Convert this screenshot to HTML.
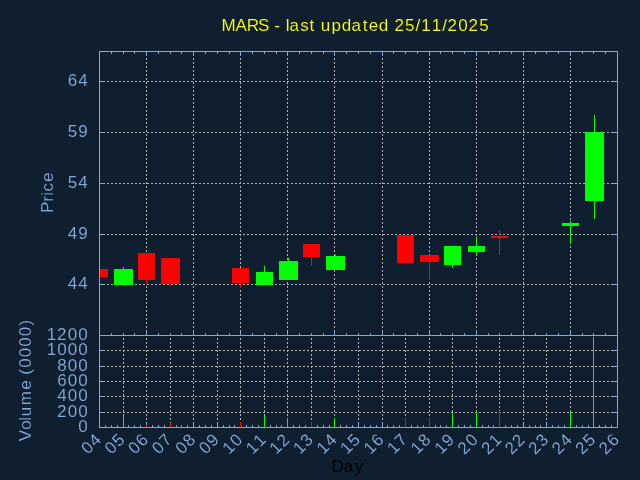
<!DOCTYPE html>
<html><head><meta charset="utf-8"><style>
html,body{margin:0;padding:0;background:#101f2f;}
svg{display:block;}
text{font-family:"Liberation Sans", sans-serif;font-size:17px;stroke:#101f2f;stroke-width:0.1px;}
</style></head><body>
<svg width="640" height="480" viewBox="0 0 640 480" shape-rendering="crispEdges">
<rect x="0" y="0" width="640" height="480" fill="#101f2f"/>
<line x1="99" y1="81.5" x2="618" y2="81.5" stroke="#b0b0ae" stroke-dasharray="2 2"/>
<line x1="99" y1="132.5" x2="618" y2="132.5" stroke="#b0b0ae" stroke-dasharray="2 2"/>
<line x1="99" y1="183.5" x2="618" y2="183.5" stroke="#b0b0ae" stroke-dasharray="2 2"/>
<line x1="99" y1="234.5" x2="618" y2="234.5" stroke="#b0b0ae" stroke-dasharray="2 2"/>
<line x1="99" y1="284.5" x2="618" y2="284.5" stroke="#b0b0ae" stroke-dasharray="2 2"/>
<line x1="146.5" y1="51" x2="146.5" y2="336" stroke="#b0b0ae" stroke-dasharray="2 2" stroke-dashoffset="1"/>
<line x1="193.5" y1="51" x2="193.5" y2="336" stroke="#b0b0ae" stroke-dasharray="2 2" stroke-dashoffset="1"/>
<line x1="240.5" y1="51" x2="240.5" y2="336" stroke="#b0b0ae" stroke-dasharray="2 2" stroke-dashoffset="1"/>
<line x1="287.5" y1="51" x2="287.5" y2="336" stroke="#b0b0ae" stroke-dasharray="2 2" stroke-dashoffset="1"/>
<line x1="334.5" y1="51" x2="334.5" y2="336" stroke="#b0b0ae" stroke-dasharray="2 2" stroke-dashoffset="1"/>
<line x1="382.5" y1="51" x2="382.5" y2="336" stroke="#b0b0ae" stroke-dasharray="2 2" stroke-dashoffset="1"/>
<line x1="429.5" y1="51" x2="429.5" y2="336" stroke="#b0b0ae" stroke-dasharray="2 2" stroke-dashoffset="1"/>
<line x1="476.5" y1="51" x2="476.5" y2="336" stroke="#b0b0ae" stroke-dasharray="2 2" stroke-dashoffset="1"/>
<line x1="523.5" y1="51" x2="523.5" y2="336" stroke="#b0b0ae" stroke-dasharray="2 2" stroke-dashoffset="1"/>
<line x1="570.5" y1="51" x2="570.5" y2="336" stroke="#b0b0ae" stroke-dasharray="2 2" stroke-dashoffset="1"/>
<line x1="99" y1="350.5" x2="618" y2="350.5" stroke="#b0b0ae" stroke-dasharray="2 2"/>
<line x1="99" y1="366.5" x2="618" y2="366.5" stroke="#b0b0ae" stroke-dasharray="2 2"/>
<line x1="99" y1="381.5" x2="618" y2="381.5" stroke="#b0b0ae" stroke-dasharray="2 2"/>
<line x1="99" y1="396.5" x2="618" y2="396.5" stroke="#b0b0ae" stroke-dasharray="2 2"/>
<line x1="99" y1="412.5" x2="618" y2="412.5" stroke="#b0b0ae" stroke-dasharray="2 2"/>
<line x1="123.5" y1="335" x2="123.5" y2="428" stroke="#b0b0ae" stroke-dasharray="2 2" stroke-dashoffset="1"/>
<line x1="146.5" y1="335" x2="146.5" y2="428" stroke="#b0b0ae" stroke-dasharray="2 2" stroke-dashoffset="1"/>
<line x1="170.5" y1="335" x2="170.5" y2="428" stroke="#b0b0ae" stroke-dasharray="2 2" stroke-dashoffset="1"/>
<line x1="193.5" y1="335" x2="193.5" y2="428" stroke="#b0b0ae" stroke-dasharray="2 2" stroke-dashoffset="1"/>
<line x1="217.5" y1="335" x2="217.5" y2="428" stroke="#b0b0ae" stroke-dasharray="2 2" stroke-dashoffset="1"/>
<line x1="240.5" y1="335" x2="240.5" y2="428" stroke="#b0b0ae" stroke-dasharray="2 2" stroke-dashoffset="1"/>
<line x1="264.5" y1="335" x2="264.5" y2="428" stroke="#b0b0ae" stroke-dasharray="2 2" stroke-dashoffset="1"/>
<line x1="287.5" y1="335" x2="287.5" y2="428" stroke="#b0b0ae" stroke-dasharray="2 2" stroke-dashoffset="1"/>
<line x1="311.5" y1="335" x2="311.5" y2="428" stroke="#b0b0ae" stroke-dasharray="2 2" stroke-dashoffset="1"/>
<line x1="334.5" y1="335" x2="334.5" y2="428" stroke="#b0b0ae" stroke-dasharray="2 2" stroke-dashoffset="1"/>
<line x1="358.5" y1="335" x2="358.5" y2="428" stroke="#b0b0ae" stroke-dasharray="2 2" stroke-dashoffset="1"/>
<line x1="382.5" y1="335" x2="382.5" y2="428" stroke="#b0b0ae" stroke-dasharray="2 2" stroke-dashoffset="1"/>
<line x1="405.5" y1="335" x2="405.5" y2="428" stroke="#b0b0ae" stroke-dasharray="2 2" stroke-dashoffset="1"/>
<line x1="429.5" y1="335" x2="429.5" y2="428" stroke="#b0b0ae" stroke-dasharray="2 2" stroke-dashoffset="1"/>
<line x1="452.5" y1="335" x2="452.5" y2="428" stroke="#b0b0ae" stroke-dasharray="2 2" stroke-dashoffset="1"/>
<line x1="476.5" y1="335" x2="476.5" y2="428" stroke="#b0b0ae" stroke-dasharray="2 2" stroke-dashoffset="1"/>
<line x1="499.5" y1="335" x2="499.5" y2="428" stroke="#b0b0ae" stroke-dasharray="2 2" stroke-dashoffset="1"/>
<line x1="523.5" y1="335" x2="523.5" y2="428" stroke="#b0b0ae" stroke-dasharray="2 2" stroke-dashoffset="1"/>
<line x1="546.5" y1="335" x2="546.5" y2="428" stroke="#b0b0ae" stroke-dasharray="2 2" stroke-dashoffset="1"/>
<line x1="570.5" y1="335" x2="570.5" y2="428" stroke="#b0b0ae" stroke-dasharray="2 2" stroke-dashoffset="1"/>
<line x1="593.5" y1="335" x2="593.5" y2="428" stroke="#b0b0ae" stroke-dasharray="2 2" stroke-dashoffset="1"/>
<rect x="99" y="51" width="519" height="1" fill="#80a8d8"/>
<rect x="99" y="427" width="519" height="1" fill="#80a8d8"/>
<rect x="99" y="51" width="1" height="377" fill="#80a8d8"/>
<rect x="617" y="51" width="1" height="377" fill="#80a8d8"/>
<rect x="99" y="335" width="519" height="1" fill="#80a8d8"/>
<rect x="100" y="81" width="4" height="1" fill="#80a8d8"/>
<rect x="613" y="81" width="4" height="1" fill="#80a8d8"/>
<rect x="100" y="132" width="4" height="1" fill="#80a8d8"/>
<rect x="613" y="132" width="4" height="1" fill="#80a8d8"/>
<rect x="100" y="183" width="4" height="1" fill="#80a8d8"/>
<rect x="613" y="183" width="4" height="1" fill="#80a8d8"/>
<rect x="100" y="234" width="4" height="1" fill="#80a8d8"/>
<rect x="613" y="234" width="4" height="1" fill="#80a8d8"/>
<rect x="100" y="284" width="4" height="1" fill="#80a8d8"/>
<rect x="613" y="284" width="4" height="1" fill="#80a8d8"/>
<rect x="100" y="350" width="4" height="1" fill="#80a8d8"/>
<rect x="613" y="350" width="4" height="1" fill="#80a8d8"/>
<rect x="100" y="366" width="4" height="1" fill="#80a8d8"/>
<rect x="613" y="366" width="4" height="1" fill="#80a8d8"/>
<rect x="100" y="381" width="4" height="1" fill="#80a8d8"/>
<rect x="613" y="381" width="4" height="1" fill="#80a8d8"/>
<rect x="100" y="396" width="4" height="1" fill="#80a8d8"/>
<rect x="613" y="396" width="4" height="1" fill="#80a8d8"/>
<rect x="100" y="412" width="4" height="1" fill="#80a8d8"/>
<rect x="613" y="412" width="4" height="1" fill="#80a8d8"/>
<rect x="111" y="52" width="1" height="2" fill="#80a8d8"/>
<rect x="111" y="333" width="1" height="2" fill="#80a8d8"/>
<rect x="123" y="52" width="1" height="2" fill="#80a8d8"/>
<rect x="123" y="333" width="1" height="2" fill="#80a8d8"/>
<rect x="134" y="52" width="1" height="2" fill="#80a8d8"/>
<rect x="134" y="333" width="1" height="2" fill="#80a8d8"/>
<rect x="146" y="52" width="1" height="4" fill="#80a8d8"/>
<rect x="146" y="331" width="1" height="4" fill="#80a8d8"/>
<rect x="158" y="52" width="1" height="2" fill="#80a8d8"/>
<rect x="158" y="333" width="1" height="2" fill="#80a8d8"/>
<rect x="170" y="52" width="1" height="2" fill="#80a8d8"/>
<rect x="170" y="333" width="1" height="2" fill="#80a8d8"/>
<rect x="181" y="52" width="1" height="2" fill="#80a8d8"/>
<rect x="181" y="333" width="1" height="2" fill="#80a8d8"/>
<rect x="193" y="52" width="1" height="4" fill="#80a8d8"/>
<rect x="193" y="331" width="1" height="4" fill="#80a8d8"/>
<rect x="205" y="52" width="1" height="2" fill="#80a8d8"/>
<rect x="205" y="333" width="1" height="2" fill="#80a8d8"/>
<rect x="217" y="52" width="1" height="2" fill="#80a8d8"/>
<rect x="217" y="333" width="1" height="2" fill="#80a8d8"/>
<rect x="229" y="52" width="1" height="2" fill="#80a8d8"/>
<rect x="229" y="333" width="1" height="2" fill="#80a8d8"/>
<rect x="240" y="52" width="1" height="4" fill="#80a8d8"/>
<rect x="240" y="331" width="1" height="4" fill="#80a8d8"/>
<rect x="252" y="52" width="1" height="2" fill="#80a8d8"/>
<rect x="252" y="333" width="1" height="2" fill="#80a8d8"/>
<rect x="264" y="52" width="1" height="2" fill="#80a8d8"/>
<rect x="264" y="333" width="1" height="2" fill="#80a8d8"/>
<rect x="276" y="52" width="1" height="2" fill="#80a8d8"/>
<rect x="276" y="333" width="1" height="2" fill="#80a8d8"/>
<rect x="287" y="52" width="1" height="4" fill="#80a8d8"/>
<rect x="287" y="331" width="1" height="4" fill="#80a8d8"/>
<rect x="299" y="52" width="1" height="2" fill="#80a8d8"/>
<rect x="299" y="333" width="1" height="2" fill="#80a8d8"/>
<rect x="311" y="52" width="1" height="2" fill="#80a8d8"/>
<rect x="311" y="333" width="1" height="2" fill="#80a8d8"/>
<rect x="323" y="52" width="1" height="2" fill="#80a8d8"/>
<rect x="323" y="333" width="1" height="2" fill="#80a8d8"/>
<rect x="334" y="52" width="1" height="4" fill="#80a8d8"/>
<rect x="334" y="331" width="1" height="4" fill="#80a8d8"/>
<rect x="346" y="52" width="1" height="2" fill="#80a8d8"/>
<rect x="346" y="333" width="1" height="2" fill="#80a8d8"/>
<rect x="358" y="52" width="1" height="2" fill="#80a8d8"/>
<rect x="358" y="333" width="1" height="2" fill="#80a8d8"/>
<rect x="370" y="52" width="1" height="2" fill="#80a8d8"/>
<rect x="370" y="333" width="1" height="2" fill="#80a8d8"/>
<rect x="382" y="52" width="1" height="4" fill="#80a8d8"/>
<rect x="382" y="331" width="1" height="4" fill="#80a8d8"/>
<rect x="393" y="52" width="1" height="2" fill="#80a8d8"/>
<rect x="393" y="333" width="1" height="2" fill="#80a8d8"/>
<rect x="405" y="52" width="1" height="2" fill="#80a8d8"/>
<rect x="405" y="333" width="1" height="2" fill="#80a8d8"/>
<rect x="417" y="52" width="1" height="2" fill="#80a8d8"/>
<rect x="417" y="333" width="1" height="2" fill="#80a8d8"/>
<rect x="429" y="52" width="1" height="4" fill="#80a8d8"/>
<rect x="429" y="331" width="1" height="4" fill="#80a8d8"/>
<rect x="440" y="52" width="1" height="2" fill="#80a8d8"/>
<rect x="440" y="333" width="1" height="2" fill="#80a8d8"/>
<rect x="452" y="52" width="1" height="2" fill="#80a8d8"/>
<rect x="452" y="333" width="1" height="2" fill="#80a8d8"/>
<rect x="464" y="52" width="1" height="2" fill="#80a8d8"/>
<rect x="464" y="333" width="1" height="2" fill="#80a8d8"/>
<rect x="476" y="52" width="1" height="4" fill="#80a8d8"/>
<rect x="476" y="331" width="1" height="4" fill="#80a8d8"/>
<rect x="488" y="52" width="1" height="2" fill="#80a8d8"/>
<rect x="488" y="333" width="1" height="2" fill="#80a8d8"/>
<rect x="499" y="52" width="1" height="2" fill="#80a8d8"/>
<rect x="499" y="333" width="1" height="2" fill="#80a8d8"/>
<rect x="511" y="52" width="1" height="2" fill="#80a8d8"/>
<rect x="511" y="333" width="1" height="2" fill="#80a8d8"/>
<rect x="523" y="52" width="1" height="4" fill="#80a8d8"/>
<rect x="523" y="331" width="1" height="4" fill="#80a8d8"/>
<rect x="535" y="52" width="1" height="2" fill="#80a8d8"/>
<rect x="535" y="333" width="1" height="2" fill="#80a8d8"/>
<rect x="546" y="52" width="1" height="2" fill="#80a8d8"/>
<rect x="546" y="333" width="1" height="2" fill="#80a8d8"/>
<rect x="558" y="52" width="1" height="2" fill="#80a8d8"/>
<rect x="558" y="333" width="1" height="2" fill="#80a8d8"/>
<rect x="570" y="52" width="1" height="4" fill="#80a8d8"/>
<rect x="570" y="331" width="1" height="4" fill="#80a8d8"/>
<rect x="582" y="52" width="1" height="2" fill="#80a8d8"/>
<rect x="582" y="333" width="1" height="2" fill="#80a8d8"/>
<rect x="593" y="52" width="1" height="2" fill="#80a8d8"/>
<rect x="593" y="333" width="1" height="2" fill="#80a8d8"/>
<rect x="605" y="52" width="1" height="2" fill="#80a8d8"/>
<rect x="605" y="333" width="1" height="2" fill="#80a8d8"/>
<rect x="105" y="425" width="1" height="2" fill="#80a8d8"/>
<rect x="111" y="425" width="1" height="2" fill="#80a8d8"/>
<rect x="117" y="425" width="1" height="2" fill="#80a8d8"/>
<rect x="123" y="423" width="1" height="4" fill="#80a8d8"/>
<rect x="128" y="425" width="1" height="2" fill="#80a8d8"/>
<rect x="134" y="425" width="1" height="2" fill="#80a8d8"/>
<rect x="140" y="425" width="1" height="2" fill="#80a8d8"/>
<rect x="146" y="423" width="1" height="4" fill="#80a8d8"/>
<rect x="152" y="425" width="1" height="2" fill="#80a8d8"/>
<rect x="158" y="425" width="1" height="2" fill="#80a8d8"/>
<rect x="164" y="425" width="1" height="2" fill="#80a8d8"/>
<rect x="170" y="423" width="1" height="4" fill="#80a8d8"/>
<rect x="176" y="425" width="1" height="2" fill="#80a8d8"/>
<rect x="181" y="425" width="1" height="2" fill="#80a8d8"/>
<rect x="187" y="425" width="1" height="2" fill="#80a8d8"/>
<rect x="193" y="423" width="1" height="4" fill="#80a8d8"/>
<rect x="199" y="425" width="1" height="2" fill="#80a8d8"/>
<rect x="205" y="425" width="1" height="2" fill="#80a8d8"/>
<rect x="211" y="425" width="1" height="2" fill="#80a8d8"/>
<rect x="217" y="423" width="1" height="4" fill="#80a8d8"/>
<rect x="223" y="425" width="1" height="2" fill="#80a8d8"/>
<rect x="229" y="425" width="1" height="2" fill="#80a8d8"/>
<rect x="234" y="425" width="1" height="2" fill="#80a8d8"/>
<rect x="240" y="423" width="1" height="4" fill="#80a8d8"/>
<rect x="246" y="425" width="1" height="2" fill="#80a8d8"/>
<rect x="252" y="425" width="1" height="2" fill="#80a8d8"/>
<rect x="258" y="425" width="1" height="2" fill="#80a8d8"/>
<rect x="264" y="423" width="1" height="4" fill="#80a8d8"/>
<rect x="270" y="425" width="1" height="2" fill="#80a8d8"/>
<rect x="276" y="425" width="1" height="2" fill="#80a8d8"/>
<rect x="281" y="425" width="1" height="2" fill="#80a8d8"/>
<rect x="287" y="423" width="1" height="4" fill="#80a8d8"/>
<rect x="293" y="425" width="1" height="2" fill="#80a8d8"/>
<rect x="299" y="425" width="1" height="2" fill="#80a8d8"/>
<rect x="305" y="425" width="1" height="2" fill="#80a8d8"/>
<rect x="311" y="423" width="1" height="4" fill="#80a8d8"/>
<rect x="317" y="425" width="1" height="2" fill="#80a8d8"/>
<rect x="323" y="425" width="1" height="2" fill="#80a8d8"/>
<rect x="329" y="425" width="1" height="2" fill="#80a8d8"/>
<rect x="334" y="423" width="1" height="4" fill="#80a8d8"/>
<rect x="340" y="425" width="1" height="2" fill="#80a8d8"/>
<rect x="346" y="425" width="1" height="2" fill="#80a8d8"/>
<rect x="352" y="425" width="1" height="2" fill="#80a8d8"/>
<rect x="358" y="423" width="1" height="4" fill="#80a8d8"/>
<rect x="364" y="425" width="1" height="2" fill="#80a8d8"/>
<rect x="370" y="425" width="1" height="2" fill="#80a8d8"/>
<rect x="376" y="425" width="1" height="2" fill="#80a8d8"/>
<rect x="382" y="423" width="1" height="4" fill="#80a8d8"/>
<rect x="387" y="425" width="1" height="2" fill="#80a8d8"/>
<rect x="393" y="425" width="1" height="2" fill="#80a8d8"/>
<rect x="399" y="425" width="1" height="2" fill="#80a8d8"/>
<rect x="405" y="423" width="1" height="4" fill="#80a8d8"/>
<rect x="411" y="425" width="1" height="2" fill="#80a8d8"/>
<rect x="417" y="425" width="1" height="2" fill="#80a8d8"/>
<rect x="423" y="425" width="1" height="2" fill="#80a8d8"/>
<rect x="429" y="423" width="1" height="4" fill="#80a8d8"/>
<rect x="435" y="425" width="1" height="2" fill="#80a8d8"/>
<rect x="440" y="425" width="1" height="2" fill="#80a8d8"/>
<rect x="446" y="425" width="1" height="2" fill="#80a8d8"/>
<rect x="452" y="423" width="1" height="4" fill="#80a8d8"/>
<rect x="458" y="425" width="1" height="2" fill="#80a8d8"/>
<rect x="464" y="425" width="1" height="2" fill="#80a8d8"/>
<rect x="470" y="425" width="1" height="2" fill="#80a8d8"/>
<rect x="476" y="423" width="1" height="4" fill="#80a8d8"/>
<rect x="482" y="425" width="1" height="2" fill="#80a8d8"/>
<rect x="488" y="425" width="1" height="2" fill="#80a8d8"/>
<rect x="493" y="425" width="1" height="2" fill="#80a8d8"/>
<rect x="499" y="423" width="1" height="4" fill="#80a8d8"/>
<rect x="505" y="425" width="1" height="2" fill="#80a8d8"/>
<rect x="511" y="425" width="1" height="2" fill="#80a8d8"/>
<rect x="517" y="425" width="1" height="2" fill="#80a8d8"/>
<rect x="523" y="423" width="1" height="4" fill="#80a8d8"/>
<rect x="529" y="425" width="1" height="2" fill="#80a8d8"/>
<rect x="535" y="425" width="1" height="2" fill="#80a8d8"/>
<rect x="540" y="425" width="1" height="2" fill="#80a8d8"/>
<rect x="546" y="423" width="1" height="4" fill="#80a8d8"/>
<rect x="552" y="425" width="1" height="2" fill="#80a8d8"/>
<rect x="558" y="425" width="1" height="2" fill="#80a8d8"/>
<rect x="564" y="425" width="1" height="2" fill="#80a8d8"/>
<rect x="570" y="423" width="1" height="4" fill="#80a8d8"/>
<rect x="576" y="425" width="1" height="2" fill="#80a8d8"/>
<rect x="582" y="425" width="1" height="2" fill="#80a8d8"/>
<rect x="588" y="425" width="1" height="2" fill="#80a8d8"/>
<rect x="593" y="423" width="1" height="4" fill="#80a8d8"/>
<rect x="599" y="425" width="1" height="2" fill="#80a8d8"/>
<rect x="605" y="425" width="1" height="2" fill="#80a8d8"/>
<rect x="611" y="425" width="1" height="2" fill="#80a8d8"/>
<rect x="100" y="269" width="8" height="8" fill="#ff0000"/>
<rect x="123" y="267" width="1" height="18" fill="#00ff00"/>
<rect x="114" y="269" width="19" height="16" fill="#00ff00"/>
<rect x="146" y="253" width="1" height="31" fill="#ff0000"/>
<rect x="138" y="253" width="17" height="27" fill="#ff0000"/>
<rect x="170" y="258" width="1" height="28" fill="#ff0000"/>
<rect x="161" y="258" width="19" height="26" fill="#ff0000"/>
<rect x="240" y="268" width="1" height="20" fill="#ff0000"/>
<rect x="232" y="268" width="17" height="15" fill="#ff0000"/>
<rect x="264" y="266" width="1" height="19" fill="#00ff00"/>
<rect x="256" y="272" width="17" height="13" fill="#00ff00"/>
<rect x="288" y="258" width="1" height="22" fill="#00ff00"/>
<rect x="279" y="261" width="19" height="19" fill="#00ff00"/>
<rect x="311" y="244" width="1" height="22" fill="#ff0000"/>
<rect x="303" y="244" width="17" height="13" fill="#ff0000"/>
<rect x="335" y="255" width="1" height="15" fill="#00ff00"/>
<rect x="326" y="256" width="19" height="14" fill="#00ff00"/>
<rect x="405" y="235" width="1" height="29" fill="#ff0000"/>
<rect x="397" y="235" width="17" height="28" fill="#ff0000"/>
<rect x="429" y="255" width="1" height="25" fill="#ff0000"/>
<rect x="420" y="255" width="19" height="7" fill="#ff0000"/>
<rect x="452" y="246" width="1" height="22" fill="#00ff00"/>
<rect x="444" y="246" width="17" height="19" fill="#00ff00"/>
<rect x="476" y="237" width="1" height="18" fill="#00ff00"/>
<rect x="468" y="246" width="17" height="6" fill="#00ff00"/>
<rect x="499" y="230" width="1" height="25" fill="#ff0000"/>
<rect x="491" y="236" width="17" height="2" fill="#ff0000"/>
<rect x="570" y="221" width="1" height="23" fill="#00ff00"/>
<rect x="562" y="223" width="17" height="3" fill="#00ff00"/>
<rect x="594" y="115" width="1" height="104" fill="#00ff00"/>
<rect x="585" y="132" width="19" height="69" fill="#00ff00"/>
<rect x="123" y="416" width="1" height="11" fill="#00ff00"/>
<rect x="146" y="425" width="1" height="2" fill="#ff0000"/>
<rect x="170" y="423" width="1" height="4" fill="#ff0000"/>
<rect x="240" y="422" width="1" height="5" fill="#ff0000"/>
<rect x="264" y="416" width="1" height="11" fill="#00ff00"/>
<rect x="287" y="418" width="1" height="9" fill="#00ff00"/>
<rect x="311" y="422" width="1" height="5" fill="#ff0000"/>
<rect x="334" y="418" width="1" height="9" fill="#00ff00"/>
<rect x="405" y="418" width="1" height="9" fill="#ff0000"/>
<rect x="429" y="418" width="1" height="9" fill="#ff0000"/>
<rect x="452" y="413" width="1" height="14" fill="#00ff00"/>
<rect x="476" y="411" width="1" height="16" fill="#00ff00"/>
<rect x="499" y="411" width="1" height="16" fill="#ff0000"/>
<rect x="570" y="411" width="1" height="16" fill="#00ff00"/>
<rect x="593" y="337" width="1" height="90" fill="#00ff00"/>
<g id="txt" opacity="0.999">
<text x="221.44 235.61 246.79 258.04 269.12 274.25 280.32 285.71 289.60 300.16 309.43 315.33 320.78 331.39 341.65 351.43 362.66 368.68 378.85 389.18 394.47 405.12 415.58 421.16 431.65 442.14 447.58 458.29 468.58 479.23" y="31" fill="#ffff00">MARS - last updated 25/11/2025</text>
<text x="67.72 78.22" y="86" fill="#86acdc">64</text>
<text x="67.66 78.17" y="137" fill="#86acdc">59</text>
<text x="67.66 78.22" y="188" fill="#86acdc">54</text>
<text x="67.72 78.17" y="239" fill="#86acdc">49</text>
<text x="67.72 78.22" y="289" fill="#86acdc">44</text>
<text x="46.64 57.00 67.72 78.22" y="340" fill="#86acdc">1200</text>
<text x="46.64 57.22 67.72 78.22" y="355" fill="#86acdc">1000</text>
<text x="57.22 67.72 78.22" y="371" fill="#86acdc">800</text>
<text x="57.22 67.72 78.22" y="386" fill="#86acdc">600</text>
<text x="57.22 67.72 78.22" y="401" fill="#86acdc">400</text>
<text x="57.00 67.72 78.22" y="417" fill="#86acdc">200</text>
<text x="78.22" y="432" fill="#86acdc">0</text>
<g transform="translate(53.1,192.4) rotate(-90)">
<text x="-20.54 -9.29 -3.27 0.99 10.36" y="0" fill="#86acdc">Price</text>
</g>
<g transform="translate(30.8,380.6) rotate(-90)">
<text x="-60.77 -49.13 -40.24 -35.59 -24.60 -9.14 0.89 5.83 12.83 23.33 33.82 44.32 55.12" y="0" fill="#86acdc">Volume (0000)</text>
</g>
<text x="331.56 343.73 354.75" y="472" fill="#000000">Day</text>
<g transform="translate(102.50,440.50) rotate(-45)">
<text x="-20.48 -9.98" y="0" fill="#86acdc">04</text>
</g>
<g transform="translate(126.05,440.50) rotate(-45)">
<text x="-20.48 -10.04" y="0" fill="#86acdc">05</text>
</g>
<g transform="translate(149.59,440.50) rotate(-45)">
<text x="-20.48 -9.98" y="0" fill="#86acdc">06</text>
</g>
<g transform="translate(173.14,440.50) rotate(-45)">
<text x="-20.48 -10.01" y="0" fill="#86acdc">07</text>
</g>
<g transform="translate(196.68,440.50) rotate(-45)">
<text x="-20.48 -9.98" y="0" fill="#86acdc">08</text>
</g>
<g transform="translate(220.23,440.50) rotate(-45)">
<text x="-20.48 -10.03" y="0" fill="#86acdc">09</text>
</g>
<g transform="translate(243.77,440.50) rotate(-45)">
<text x="-20.56 -9.98" y="0" fill="#86acdc">10</text>
</g>
<g transform="translate(267.32,440.50) rotate(-45)">
<text x="-20.56 -10.06" y="0" fill="#86acdc">11</text>
</g>
<g transform="translate(290.86,440.50) rotate(-45)">
<text x="-20.56 -10.20" y="0" fill="#86acdc">12</text>
</g>
<g transform="translate(314.41,440.50) rotate(-45)">
<text x="-20.56 -9.96" y="0" fill="#86acdc">13</text>
</g>
<g transform="translate(337.95,440.50) rotate(-45)">
<text x="-20.56 -9.98" y="0" fill="#86acdc">14</text>
</g>
<g transform="translate(361.50,440.50) rotate(-45)">
<text x="-20.56 -10.04" y="0" fill="#86acdc">15</text>
</g>
<g transform="translate(385.05,440.50) rotate(-45)">
<text x="-20.56 -9.98" y="0" fill="#86acdc">16</text>
</g>
<g transform="translate(408.59,440.50) rotate(-45)">
<text x="-20.56 -10.01" y="0" fill="#86acdc">17</text>
</g>
<g transform="translate(432.14,440.50) rotate(-45)">
<text x="-20.56 -9.98" y="0" fill="#86acdc">18</text>
</g>
<g transform="translate(455.68,440.50) rotate(-45)">
<text x="-20.56 -10.03" y="0" fill="#86acdc">19</text>
</g>
<g transform="translate(479.23,440.50) rotate(-45)">
<text x="-20.70 -9.98" y="0" fill="#86acdc">20</text>
</g>
<g transform="translate(502.77,440.50) rotate(-45)">
<text x="-20.70 -10.06" y="0" fill="#86acdc">21</text>
</g>
<g transform="translate(526.32,440.50) rotate(-45)">
<text x="-20.70 -10.20" y="0" fill="#86acdc">22</text>
</g>
<g transform="translate(549.86,440.50) rotate(-45)">
<text x="-20.70 -9.96" y="0" fill="#86acdc">23</text>
</g>
<g transform="translate(573.41,440.50) rotate(-45)">
<text x="-20.70 -9.98" y="0" fill="#86acdc">24</text>
</g>
<g transform="translate(596.95,440.50) rotate(-45)">
<text x="-20.70 -10.04" y="0" fill="#86acdc">25</text>
</g>
<g transform="translate(620.50,440.50) rotate(-45)">
<text x="-20.70 -9.98" y="0" fill="#86acdc">26</text>
</g>
</g>
</svg></body></html>
